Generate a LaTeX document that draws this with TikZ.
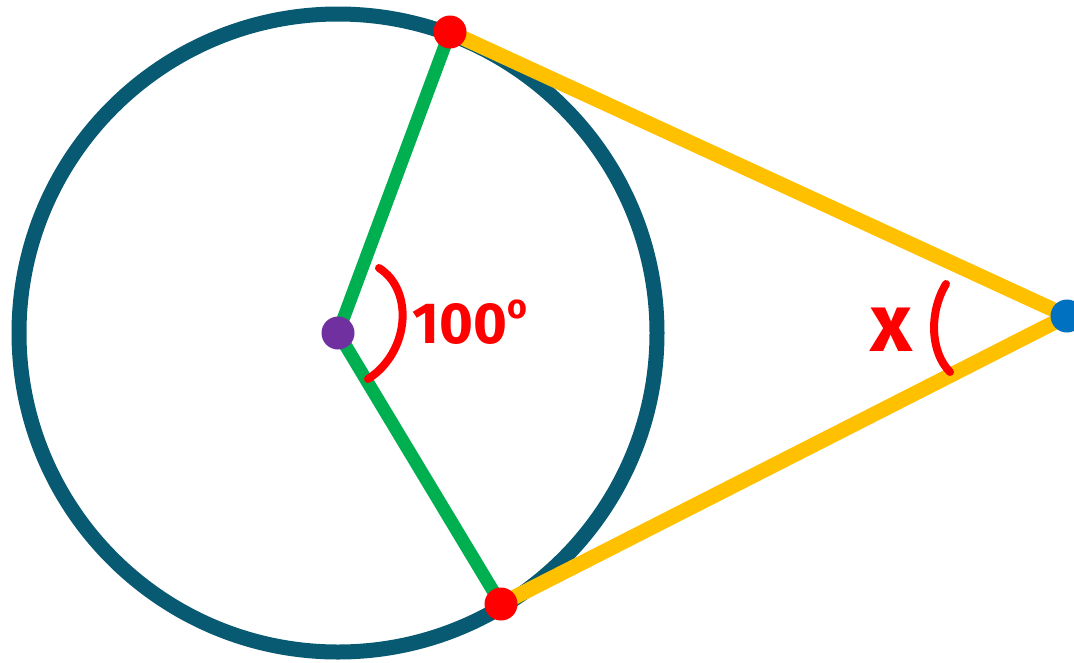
\documentclass[tikz,border=0pt]{standalone}
\usepackage{fontspec}
\usepackage{xcolor}
\usepackage{tikz}
\usetikzlibrary{backgrounds}

\newfontfamily\handfont{Fira Sans}

\definecolor{rimblue}{HTML}{075A72}
\definecolor{radgreen}{HTML}{00B050}
\definecolor{tangold}{HTML}{FFC000}
\definecolor{ctrpurple}{HTML}{7030A0}
\definecolor{extblue}{HTML}{0070C0}

\begin{document}
\begin{tikzpicture}[
  x = 1pt, y = -1pt,
  vertex/.style  = {circle, fill=#1, minimum size=33pt, inner sep=0pt},
  rim/.style     = {draw=rimblue, line width=15pt},
  spoke/.style   = {draw=radgreen, line width=13pt},
  tang/.style    = {draw=tangold, line width=15pt},
  angmark/.style = {draw=red, line width=8pt, line cap=round},
  lbl/.style     = {text=red, font=\handfont\bfseries\fontsize{58}{60}\selectfont, inner sep=0pt}
]
\useasboundingbox (0,0) rectangle (1074,662);

% points
\node[vertex=ctrpurple] (O) at (338,333)  {};
\node[vertex=red]       (A) at (450,32)   {};
\node[vertex=red]       (B) at (501,604)  {};
\node[vertex=extblue]   (P) at (1067,316) {};

\begin{scope}[on background layer]
  \draw[rim] (O.center) circle[radius=319pt];
  \draw[spoke] (O.center) -- (A.center);
  \draw[spoke] (O.center) -- (B.center);
  \draw[tang] (A.center) -- (P.center);
  \draw[tang] (B.center) -- (P.center);
\end{scope}

% angle marks
\draw[angmark] (379,268) .. controls (414,290) and (410,352) .. (368,379);
\draw[angmark] (946,284) .. controls (929,312) and (930,352) .. (950,372);

\node[lbl] (ang) at (470,322) {100\raisebox{0.42em}{\fontsize{34}{34}\selectfont o}};
\node[lbl, font=\handfont\bfseries\fontsize{82}{84}\selectfont] (x) at (891,330) {x};

\end{tikzpicture}
\end{document}
